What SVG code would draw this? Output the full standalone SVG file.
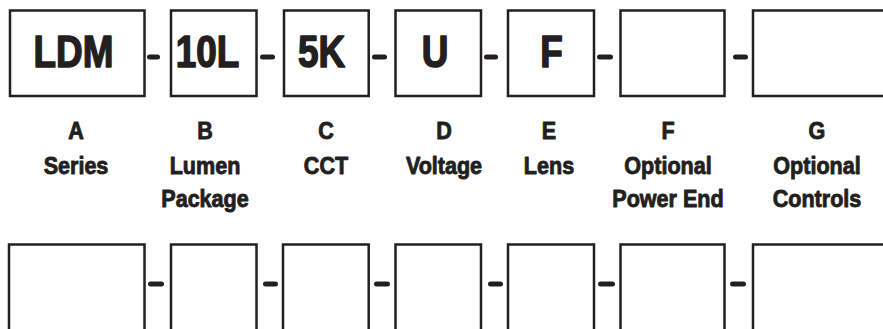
<svg xmlns="http://www.w3.org/2000/svg" width="883" height="329" viewBox="0 0 883 329">
<style>
.box{fill:#fff;stroke:#231f20;stroke-width:2.5}
.dash{stroke:#231f20;stroke-width:5;stroke-linecap:round;fill:none}
.code{font-family:"Liberation Sans",Arial,sans-serif;font-weight:bold;font-size:45px;fill:#231f20;stroke:#231f20;stroke-width:1.6;stroke-linejoin:round;text-anchor:middle}
.lbl{font-family:"Liberation Sans",Arial,sans-serif;font-weight:bold;font-size:24.5px;fill:#231f20;stroke:#231f20;stroke-width:0.9;stroke-linejoin:round;text-anchor:middle}
</style>
<rect width="883" height="329" fill="#fff"/>
<g id="nodeA"><rect class="box" x="10" y="10.5" width="134.5" height="85.5"/><g transform="translate(73.5 0) scale(0.82 1)"><text class="code" x="0" y="67.5">LDM</text></g></g>
<g id="nodeB"><rect class="box" x="171" y="10.5" width="85.5" height="85.5"/><g transform="translate(207.5 0) scale(0.82 1)"><text class="code" x="0" y="67.5">10L</text></g></g>
<g id="nodeC"><rect class="box" x="284" y="10.5" width="84.7" height="85.5"/><g transform="translate(321.5 0) scale(0.82 1)"><text class="code" x="0" y="67.5">5K</text></g></g>
<g id="nodeD"><rect class="box" x="395.5" y="10.5" width="85.5" height="85.5"/><g transform="translate(435 0) scale(0.82 1)"><text class="code" x="0" y="67.5">U</text></g></g>
<g id="nodeE"><rect class="box" x="508" y="10.5" width="86" height="85.5"/><g transform="translate(551.5 0) scale(0.82 1)"><text class="code" x="0" y="67.5">F</text></g></g>
<g id="nodeF"><rect class="box" x="620.5" y="10.5" width="104" height="85.5"/></g>
<g id="nodeG"><rect class="box" x="753" y="10.5" width="140" height="85.5"/></g>

<g id="labelA" transform="translate(76 0) scale(0.88 1)"><text class="lbl" x="0" y="139">A</text><text class="lbl" x="0" y="174">Series</text></g>
<g id="labelB" transform="translate(205 0) scale(0.88 1)"><text class="lbl" x="0" y="139">B</text><text class="lbl" x="0" y="174">Lumen</text><text class="lbl" x="0" y="207">Package</text></g>
<g id="labelC" transform="translate(326 0) scale(0.88 1)"><text class="lbl" x="0" y="139">C</text><text class="lbl" x="0" y="174">CCT</text></g>
<g id="labelD" transform="translate(444 0) scale(0.88 1)"><text class="lbl" x="0" y="139">D</text><text class="lbl" x="0" y="174">Voltage</text></g>
<g id="labelE" transform="translate(549 0) scale(0.88 1)"><text class="lbl" x="0" y="139">E</text><text class="lbl" x="0" y="174">Lens</text></g>
<g id="labelF" transform="translate(668 0) scale(0.88 1)"><text class="lbl" x="0" y="139">F</text><text class="lbl" x="0" y="174">Optional</text><text class="lbl" x="0" y="207">Power End</text></g>
<g id="labelG" transform="translate(817 0) scale(0.88 1)"><text class="lbl" x="0" y="139">G</text><text class="lbl" x="0" y="174">Optional</text><text class="lbl" x="0" y="207">Controls</text></g>

<g id="blankA"><rect class="box" x="9" y="244.5" width="135.5" height="100"/></g>
<g id="blankB"><rect class="box" x="171" y="244.5" width="85.5" height="100"/></g>
<g id="blankC"><rect class="box" x="283" y="244.5" width="85.7" height="100"/></g>
<g id="blankD"><rect class="box" x="395.5" y="244.5" width="85.5" height="100"/></g>
<g id="blankE"><rect class="box" x="508" y="244.5" width="86" height="100"/></g>
<g id="blankF"><rect class="box" x="620.5" y="244.5" width="104" height="100"/></g>
<g id="blankG"><rect class="box" x="753" y="244.5" width="140" height="100"/></g>

<g id="connectors">
<line class="dash" x1="149.5" y1="57" x2="157.5" y2="57"/>
<line class="dash" x1="262.5" y1="57" x2="272.5" y2="57"/>
<line class="dash" x1="374.5" y1="57" x2="384.5" y2="57"/>
<line class="dash" x1="486.5" y1="57" x2="495.5" y2="57"/>
<line class="dash" x1="599.5" y1="57" x2="610.5" y2="57"/>
<line class="dash" x1="735.5" y1="57" x2="745.5" y2="57"/>
<line class="dash" x1="150.5" y1="284" x2="161.5" y2="284"/>
<line class="dash" x1="265.5" y1="284" x2="275.5" y2="284"/>
<line class="dash" x1="376.5" y1="284" x2="387.5" y2="284"/>
<line class="dash" x1="490.5" y1="284" x2="500.5" y2="284"/>
<line class="dash" x1="600.5" y1="284" x2="612.5" y2="284"/>
<line class="dash" x1="732.5" y1="284" x2="743.5" y2="284"/>
</g>
</svg>
